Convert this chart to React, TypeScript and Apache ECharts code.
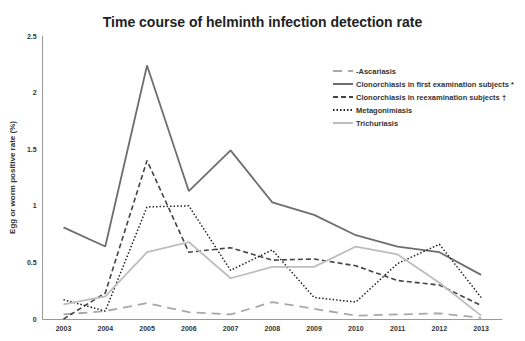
import React, { useEffect, useRef } from "react";
import * as echarts from "echarts";

const years = ["2003", "2004", "2005", "2006", "2007", "2008", "2009", "2010", "2011", "2012", "2013"];
const ascariasis = [0.04, 0.07, 0.14, 0.06, 0.04, 0.15, 0.09, 0.03, 0.04, 0.05, 0.01];
const clonoFirst = [0.81, 0.64, 2.24, 1.13, 1.49, 1.03, 0.92, 0.74, 0.64, 0.59, 0.39];
const clonoRe = [0.0, 0.23, 1.4, 0.59, 0.63, 0.52, 0.53, 0.47, 0.34, 0.3, 0.12];
const metagonimiasis = [0.17, 0.07, 0.99, 1.0, 0.43, 0.61, 0.19, 0.15, 0.49, 0.66, 0.19];
const trichuriasis = [0.13, 0.2, 0.59, 0.68, 0.36, 0.46, 0.46, 0.64, 0.57, 0.32, 0.03];
const yTicks = ["0", "0.5", "1", "1.5", "2", "2.5"];

export default function App() {
  const ref = useRef<HTMLDivElement>(null);
  useEffect(() => {
    if (!ref.current) return;
    const chart = echarts.init(ref.current, null, { renderer: "svg" });
    const font = "Liberation Sans, Arial, sans-serif";
    const mk = (name: string, data: number[], color: string, type: any, width = 1.6) => ({
      name,
      type: "line",
      data,
      symbol: "none",
      lineStyle: { color, width, type },
      itemStyle: { color },
    });
    chart.setOption({
      animation: false,
      backgroundColor: "#fff",
      title: {
        text: "Time course of helminth infection detection rate",
        left: "center",
        top: 10,
        textStyle: { fontFamily: font, fontSize: 14, fontWeight: "bold", color: "#222" },
      },
      legend: {
        orient: "vertical",
        left: 327,
        top: 62,
        itemWidth: 20,
        itemHeight: 8,
        itemGap: 5,
        itemStyle: { opacity: 0 },
        textStyle: {
          fontFamily: font,
          fontSize: 7.5,
          fontWeight: "bold",
          color: "#333",
          padding: [0, 0, 0, -2],
        },
        data: [
          "-Ascariasis",
          "Clonorchiasis in first examination subjects *",
          "Clonorchiasis in reexamination subjects †",
          "Metagonimiasis",
          "Trichuriasis",
        ],
      },
      grid: { left: 41, right: 23, top: 36, bottom: 22, containLabel: false },
      xAxis: {
        type: "category",
        data: years,
        boundaryGap: true,
        axisLine: { lineStyle: { color: "#999", width: 1 } },
        axisTick: { show: false },
        axisLabel: { fontFamily: font, fontSize: 7, fontWeight: "bold", color: "#333", margin: 6 },
      },
      yAxis: {
        type: "value",
        min: 0,
        max: 2.5,
        interval: 0.5,
        name: "Egg or worm positive rate (%)",
        nameLocation: "middle",
        nameGap: 20,
        nameTextStyle: { fontFamily: font, fontSize: 8, fontWeight: "bold", color: "#333" },
        axisLine: { show: true, lineStyle: { color: "#999", width: 1 } },
        axisTick: { show: false },
        splitLine: { show: false },
        axisLabel: {
          fontFamily: font,
          fontSize: 7,
          fontWeight: "bold",
          color: "#333",
          margin: 6,
          formatter: (v: number) => yTicks[Math.round(v / 0.5)] ?? String(v),
        },
      },
      series: [
        mk("-Ascariasis", ascariasis, "#a8a8a8", [9, 6], 1.8),
        mk("Clonorchiasis in first examination subjects *", clonoFirst, "#6e6e6e", "solid", 1.8),
        mk("Clonorchiasis in reexamination subjects †", clonoRe, "#444", [5, 3], 1.6),
        mk("Metagonimiasis", metagonimiasis, "#222", [1.5, 2], 1.5),
        mk("Trichuriasis", trichuriasis, "#bdbdbd", "solid", 1.8),
      ],
    });
    return () => chart.dispose();
  }, []);
  return <div ref={ref} style={{ width: 525, height: 341, position: "absolute", left: 0, top: 0 }} />;
}
